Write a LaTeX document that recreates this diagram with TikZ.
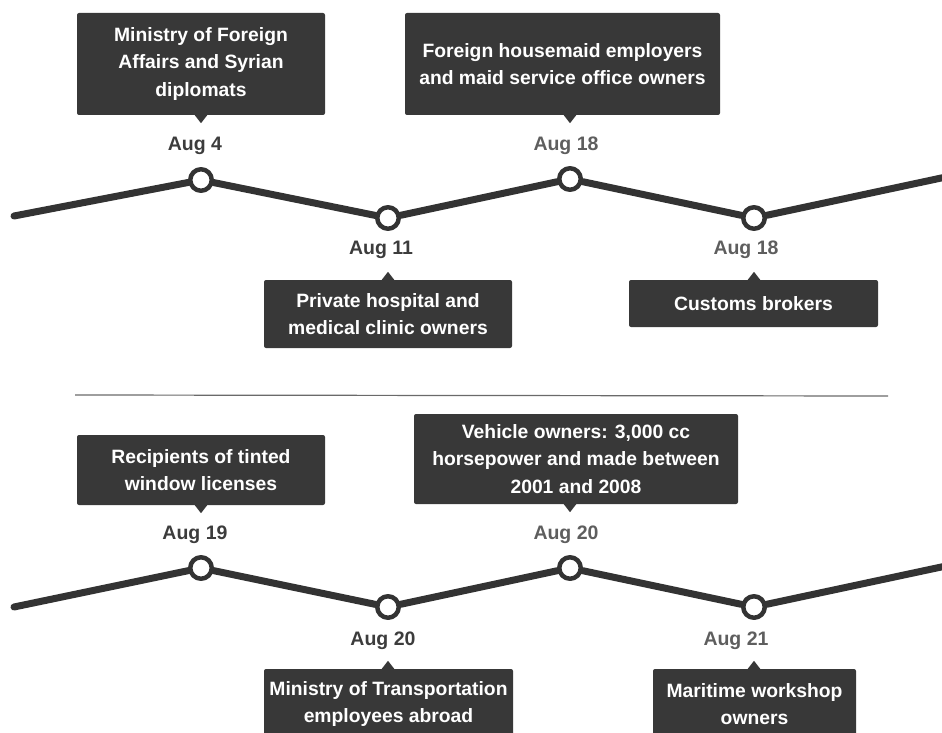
\documentclass[tikz,border=0pt]{standalone}
\usepackage{fontspec}
\setmainfont{Liberation Sans}
\usetikzlibrary{positioning}
\definecolor{boxgray}{HTML}{383838}
\definecolor{linegray}{HTML}{333333}
\definecolor{datedark}{HTML}{3C3C3C}
\definecolor{datelight}{HTML}{5E5E5E}
\definecolor{rulegray}{HTML}{6A6A6A}
\tikzset{
  knot/.style={circle, draw=linegray, line width=4.5, fill=white, minimum size=21.5, inner sep=0},
  wave/.style={draw=linegray, line width=7, line cap=round},
  callout/.style={fill=boxgray, rounded corners=2, text=white, align=center, inner sep=0,
    font=\bfseries\fontsize{19.3}{27.5}\selectfont},
  datelbl/.style={font=\bfseries\fontsize{19.5}{22}\selectfont, text=datedark},
}
\begin{document}
\begin{tikzpicture}[x=1pt, y=-1pt, line join=round]
	\clip (0,0) rectangle (942,733);
	% upper timeline
	\node[knot] (p1) at (201,180) {};
	\node[knot] (p2) at (388,218) {};
	\node[knot] (p3) at (570,179) {};
	\node[knot] (p4) at (754,218) {};
	\coordinate (s1) at (14,216);
	\coordinate (e1) at (960,174);
	\draw[wave] (s1) -- (p1) -- (p2) -- (p3) -- (p4) -- (e1);
	\node[datelbl] (d1) at (195,146) {Aug 4};
	\node[datelbl] (d2) at (381,250) {Aug 11};
	\node[datelbl, text=datelight] (d3) at (566,146) {Aug 18};
	\node[datelbl, text=datelight] (d4) at (746,250) {Aug 18};
	\node[callout, minimum width=248, minimum height=102] (b1) at (201,64) {Ministry of Foreign\\Affairs and Syrian\\diplomats};
	\node[callout, minimum width=315, minimum height=102] (b2) at (562.5,64) {Foreign housemaid employers\\and maid service office owners};
	\node[callout, minimum width=248, minimum height=68] (b3) at (388,314) {Private hospital and\\medical clinic owners};
	\node[callout, minimum width=249, minimum height=47] (b4) at (753.5,303.5) {Customs brokers};
	% separator
	\draw[rulegray, line width=1.2] (75,395) -- (888,396);
	% lower timeline
	\node[knot] (q1) at (201,568) {};
	\node[knot] (q2) at (388,607) {};
	\node[knot] (q3) at (570,568) {};
	\node[knot] (q4) at (754,607) {};
	\coordinate (s2) at (14,607);
	\coordinate (e2) at (960,563);
	\draw[wave] (s2) -- (q1) -- (q2) -- (q3) -- (q4) -- (e2);
	\node[datelbl] (d5) at (195,535) {Aug 19};
	\node[datelbl] (d6) at (383,641) {Aug 20};
	\node[datelbl, text=datelight] (d7) at (566,535) {Aug 20};
	\node[datelbl, text=datelight] (d8) at (736,641) {Aug 21};
	\node[callout, minimum width=248, minimum height=70] (b5) at (201,470) {Recipients of tinted\\window licenses};
	\node[callout, minimum width=324, minimum height=90] (b6) at (576,459) {Vehicle owners: 3,000 cc\\horsepower and made between\\2001 and 2008};
	\node[callout, minimum width=249, minimum height=70] (b7) at (388.5,704) {Ministry of Transportation\\employees abroad};
	\node[callout, minimum width=203, minimum height=70] (b8) at (754.5,704) {Maritime workshop\\owners};
	% pointers
	\foreach \b/\p in {b1/p1, b2/p3, b5/q1, b6/q3}
		\fill[boxgray] (\b.south -| \p) ++(-7,-1) -- ++(7,9) -- ++(7,-9) -- cycle;
	\foreach \b/\p in {b3/p2, b4/p4, b7/q2, b8/q4}
		\fill[boxgray] (\b.north -| \p) ++(-7,1) -- ++(7,-9) -- ++(7,9) -- cycle;
\end{tikzpicture}
\end{document}
